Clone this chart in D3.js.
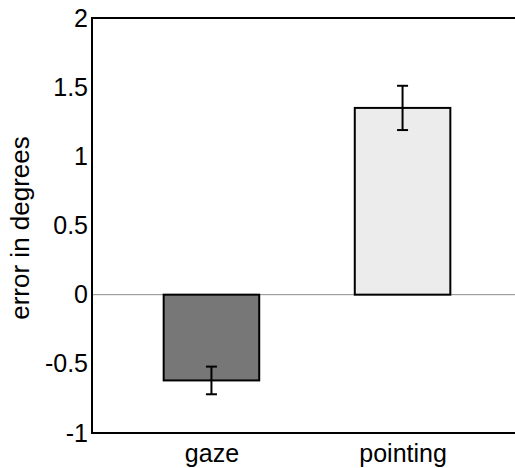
<!DOCTYPE html>
<html>
<head>
<meta charset="utf-8">
<script src="https://cdn.jsdelivr.net/npm/d3@7"></script>
<style>
    body { margin: 0; background: #fff; }
    text { font-family: "Liberation Sans", Arial, sans-serif; }
</style>
</head>
<body>
<svg id="canvas"></svg>
<script>
const CATEGORIES = ["gaze", "pointing"];
const MEANS = [-0.62, 1.35];
const ERRORS = [0.10, 0.16];
const FILLS = ["#777777", "#ececec"];
const Y_TICKS = [-1, -0.5, 0, 0.5, 1, 1.5, 2];

const width = 515;
const height = 468;
const plotLeft = 92;
const plotRight = 522;
const plotTop = 18;
const plotBottom = 433;

const canvas = d3.select("#canvas")
    .attr("width", width)
    .attr("height", height);

//Scales
const xScale = d3.scalePoint()
    .domain(CATEGORIES)
    .range([plotLeft, plotRight])
    .padding(0.625);
const barWidth = xScale.step() * 0.5;

const yScale = d3.scaleLinear()
    .domain([-1, 2])
    .range([plotBottom, plotTop]);

//Zero line
canvas.append("line")
    .attr("x1", plotLeft)
    .attr("x2", plotRight)
    .attr("y1", yScale(0))
    .attr("y2", yScale(0))
    .attr("stroke", "#8c8c8c")
    .attr("stroke-width", 1);

//Bars
canvas.selectAll(".bar")
    .data(CATEGORIES)
    .enter()
    .append("rect")
    .attr("class", "bar")
    .attr("x", d => xScale(d) - barWidth / 2)
    .attr("width", barWidth)
    .attr("y", (d, i) => yScale(Math.max(0, MEANS[i])))
    .attr("height", (d, i) => Math.abs(yScale(MEANS[i]) - yScale(0)))
    .attr("fill", (d, i) => FILLS[i])
    .attr("stroke", "#000")
    .attr("stroke-width", 2);

//Error bars
const err = canvas.selectAll(".err")
    .data(CATEGORIES)
    .enter()
    .append("g")
    .attr("class", "err")
    .attr("stroke", "#000")
    .attr("stroke-width", 2);

err.append("line")
    .attr("x1", d => xScale(d))
    .attr("x2", d => xScale(d))
    .attr("y1", (d, i) => yScale(MEANS[i] + ERRORS[i]))
    .attr("y2", (d, i) => yScale(MEANS[i] - ERRORS[i]));

[1, -1].forEach(s => {
    err.append("line")
        .attr("x1", d => xScale(d) - 5.5)
        .attr("x2", d => xScale(d) + 5.5)
        .attr("y1", (d, i) => yScale(MEANS[i] + s * ERRORS[i]))
        .attr("y2", (d, i) => yScale(MEANS[i] + s * ERRORS[i]));
});

//Axes box
canvas.append("rect")
    .attr("x", plotLeft)
    .attr("y", plotTop)
    .attr("width", plotRight - plotLeft)
    .attr("height", plotBottom - plotTop)
    .attr("fill", "none")
    .attr("stroke", "#000")
    .attr("stroke-width", 2);

//Y tick labels
const yAxis = d3.axisLeft(yScale)
    .tickValues(Y_TICKS)
    .tickSize(0)
    .tickPadding(4)
    .tickFormat(d => String(d));

canvas.append("g")
    .attr("transform", `translate(${plotLeft}, 0)`)
    .call(yAxis)
    .call(g => g.select(".domain").remove())
    .selectAll("text")
    .attr("font-family", "Liberation Sans, Arial, sans-serif")
    .attr("font-size", 25)
    .attr("fill", "#000");

//X tick labels
const xAxis = d3.axisBottom(xScale)
    .tickSize(0)
    .tickPadding(11);

canvas.append("g")
    .attr("transform", `translate(0, ${plotBottom})`)
    .call(xAxis)
    .call(g => g.select(".domain").remove())
    .selectAll("text")
    .attr("font-family", "Liberation Sans, Arial, sans-serif")
    .attr("font-size", 25)
    .attr("fill", "#000");

//Y label
canvas.append("text")
    .attr("transform", `translate(29, 228) rotate(-90)`)
    .attr("text-anchor", "middle")
    .attr("font-size", 26)
    .text("error in degrees");
</script>
</body>
</html>
